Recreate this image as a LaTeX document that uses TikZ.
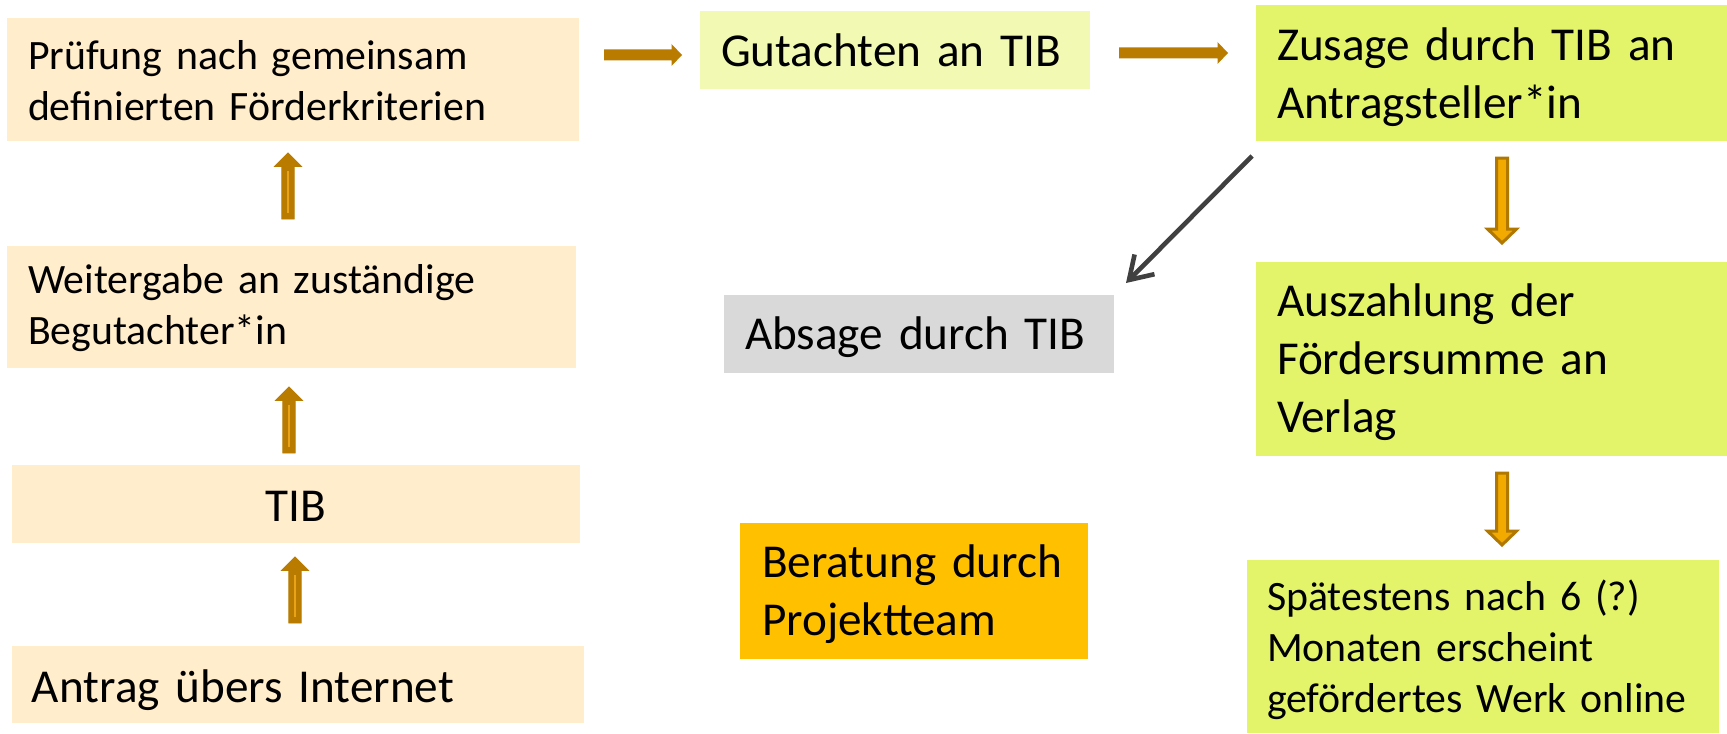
\documentclass[tikz,border=0pt]{standalone}
\usepackage{fontspec}
\setmainfont{Carlito}
\usetikzlibrary{calc,arrows.meta}
\definecolor{peach}{HTML}{FFEDCB}
\definecolor{paleyel}{HTML}{F1F9B3}
\definecolor{limey}{HTML}{E4F46A}
\definecolor{greybox}{HTML}{D9D9D9}
\definecolor{amber}{HTML}{FFC000}
\definecolor{gold}{HTML}{B97B00}
\definecolor{goldlight}{HTML}{E8A416}
\definecolor{goldedge}{HTML}{B07800}
\definecolor{orangefill}{HTML}{F2A900}
\definecolor{darkline}{HTML}{404040}
\newcommand\smallf{\fontsize{20.9pt}{25.5pt}\selectfont}
\newcommand\largef{\fontsize{23.6pt}{29pt}\selectfont}
\newcommand\myblockarrow[6]{%
  \coordinate (ba-s) at #2;
  \coordinate (ba-e) at #3;
  \coordinate (ba-h) at ($(ba-e)!#6!(ba-s)$);
  \path[#1] ($(ba-s)!#4!90:(ba-e)$) -- ($(ba-h)!#4!-90:(ba-s)$) -- ($(ba-h)!#5!-90:(ba-s)$) -- (ba-e) -- ($(ba-h)!#5!90:(ba-s)$) -- ($(ba-h)!#4!90:(ba-s)$) -- ($(ba-s)!#4!-90:(ba-e)$) -- cycle;
}
\begin{document}
\begin{tikzpicture}[x=0.5pt,y=-0.5pt,
  box/.style={anchor=north west, inner xsep=10.5pt, inner ysep=0pt, outer sep=0pt, align=left},
  lower/.style={execute at begin node={\rule{0pt}{#1}}},
  harrow/.style={fill=gold},
  uparrow/.style={fill=gold, draw=gold, line width=0.4pt},
  uplight/.style={draw=goldlight, line width=0.6pt},
  downarrow/.style={fill=orangefill, draw=goldedge, line width=1.5pt, line join=miter},
  diag/.style={draw=darkline, line width=2.3pt, -{Straight Barb[length=11pt,width=14pt]}}]
\fill[white] (0,0) rectangle (1727,733);
\useasboundingbox (0,0) rectangle (1727,733);
% left column
\node[box, fill=peach, font=\smallf, lower=16pt, minimum height=61.5pt, text width=265pt] (pruef) at (7,18) {Prüfung nach gemeinsam\\definierten Förderkriterien};
\node[box, fill=peach, font=\smallf, lower=16pt, minimum height=61pt, text width=263.5pt] (weiter) at (7,246) {Weitergabe an zuständige\\Begutachter*in};
\node[box, fill=peach, font=\largef, lower=17.2pt, minimum height=39pt, text width=263pt, align=center] (tib) at (12,465) {TIB};
\node[box, fill=peach, font=\largef, lower=22pt, inner xsep=10pt, minimum height=38.5pt, text width=266pt] (antrag) at (12,646) {Antrag übers Internet};
% middle column
\node[box, fill=paleyel, font=\largef, minimum height=39pt, text width=174pt] (gut) at (700,11) {Gutachten an TIB};
\node[box, fill=greybox, font=\largef, lower=19.5pt, minimum height=39pt, text width=174pt] (absage) at (724,295) {Absage durch TIB};
\node[box, fill=amber, font=\largef, lower=19.5pt, inner xsep=11pt, minimum height=68pt, text width=152pt] (berat) at (740,523) {Beratung durch\\Projektteam};
% right column
\node[box, fill=limey, font=\largef, lower=20.5pt, minimum height=68pt, text width=214.5pt] (zus) at (1256,5) {Zusage durch TIB an\\Antragsteller*in};
\node[box, fill=limey, font=\largef, lower=19.5pt, minimum height=97pt, text width=214.5pt] (ausz) at (1256,262) {Auszahlung der\\Fördersumme an\\Verlag};
\node[box, fill=limey, font=\smallf, lower=18.5pt, inner xsep=10pt, minimum height=86.5pt, text width=216pt] (spaet) at (1247,560) {Spätestens nach 6 (?)\\Monaten erscheint\\gefördertes Werk online};
% horizontal arrows
\myblockarrow{harrow}{($(pruef.east |- gut.west)+(25,5)$)}{($(gut.west)+(-18,5)$)}{2.75pt}{5.5pt}{5.25pt}
\myblockarrow{harrow}{($(gut.east)+(29,3)$)}{($(zus.west |- gut.east)+(-28,3)$)}{2.75pt}{5.5pt}{5.25pt}
% up arrows
\coordinate (u1s) at ($(weiter.north)+(-3.5,-27)$);
\coordinate (u1e) at ($(u1s |- pruef.south)+(0,12)$);
\myblockarrow{uparrow}{(u1s)}{(u1e)}{3.1pt}{6.75pt}{6.75pt}
\draw[uplight] ($(u1s)+(0,-6)$) -- ($(u1e)+(0,18)$);
\coordinate (u2s) at ($(tib.north)+(-7,-12)$);
\coordinate (u2e) at ($(u2s |- weiter.south)+(0,19)$);
\myblockarrow{uparrow}{(u2s)}{(u2e)}{3.1pt}{6.75pt}{6.75pt}
\draw[uplight] ($(u2s)+(0,-6)$) -- ($(u2e)+(0,18)$);
\coordinate (u3s) at ($(antrag.north)+(-3,-23)$);
\coordinate (u3e) at ($(u3s |- tib.south)+(0,14)$);
\myblockarrow{uparrow}{(u3s)}{(u3e)}{3.1pt}{6.75pt}{6.75pt}
\draw[uplight] ($(u3s)+(0,-6)$) -- ($(u3e)+(0,18)$);
% down arrows
\coordinate (d1s) at ($(zus.south)+(10.5,17)$);
\coordinate (d1e) at ($(d1s |- ausz.north)+(0,-19)$);
\myblockarrow{downarrow}{(d1s)}{(d1e)}{2.75pt}{7.25pt}{7pt}
\coordinate (d2s) at ($(ausz.south)+(10.5,17)$);
\coordinate (d2e) at ($(d2s |- spaet.north)+(0,-15)$);
\myblockarrow{downarrow}{(d2s)}{(d2e)}{2.75pt}{7.25pt}{7pt}
% rejection arrow
\draw[diag] ($(zus.south west)+(-4,15)$) -- ($(absage.north east)+(12,-12)$);
\end{tikzpicture}
\end{document}
